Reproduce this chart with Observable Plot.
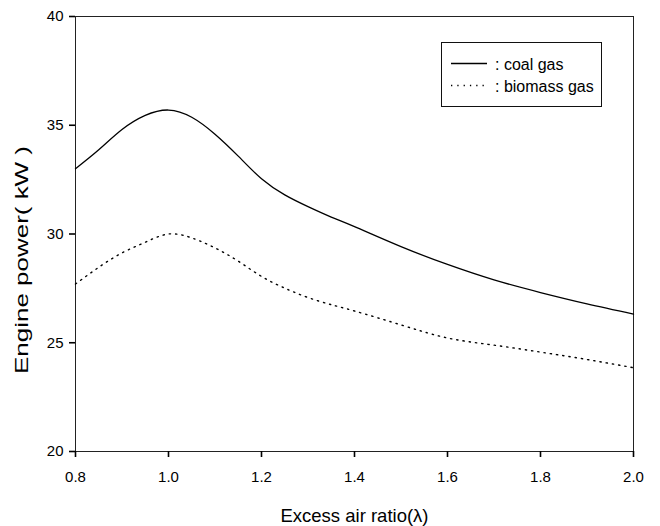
<!DOCTYPE html>
<html><head><meta charset="utf-8">
<script src="https://cdn.jsdelivr.net/npm/d3@7"></script>
<script src="https://cdn.jsdelivr.net/npm/@observablehq/plot@0.6"></script>
<style>
body{margin:0;background:#fff;}
#wrap{position:relative;width:660px;height:526px;font-family:"Liberation Sans",Arial,sans-serif;}
#legend{position:absolute;left:441px;top:42px;}
</style></head><body><div id="wrap"></div>
<script>
const lambda     = [0.8, 0.85, 0.9, 0.95, 1.0, 1.05, 1.1, 1.15, 1.2, 1.25, 1.3, 1.35, 1.4, 1.5, 1.6, 1.7, 1.8, 1.9, 2.0];
const coalGas    = [33.0, 33.87, 34.8, 35.45, 35.7, 35.37, 34.59, 33.58, 32.54, 31.8, 31.26, 30.78, 30.34, 29.42, 28.6, 27.89, 27.31, 26.79, 26.32];
const biomassGas = [27.7, 28.47, 29.13, 29.62, 30.0, 29.82, 29.36, 28.75, 28.05, 27.51, 27.08, 26.75, 26.46, 25.82, 25.22, 24.89, 24.57, 24.23, 23.85];
const xTicks = [0.8, 1.0, 1.2, 1.4, 1.6, 1.8, 2.0];
const yTicks = [20, 25, 30, 35, 40];
const xDomain = [0.8, 2.0];
const yDomain = [20, 40];
const seriesNames = [": coal gas", ": biomass gas"];
const xLabel = "Excess air ratio(λ)";
const yLabel = "Engine power( kW )";
const dotDash = "1.3,5";

const W = 660, H = 526, mL = 75, mR = 27, mT = 16, mB = 75;

const chart = Plot.plot({
  width: W, height: H,
  marginLeft: mL, marginRight: mR, marginTop: mT, marginBottom: mB,
  style: {fontFamily: "'Liberation Sans', Arial, sans-serif", fontSize: "15px", background: "white", color: "black"},
  x: {domain: xDomain},
  y: {domain: yDomain},
  marks: [
    Plot.frame({stroke: "#222"}),
    Plot.axisX({ticks: xTicks, tickFormat: d3.format(".1f"), tickSize: 6, tickPadding: 14, strokeWidth: 1.6,
      fontSize: 15, label: xLabel, labelAnchor: "center", labelOffset: 70, labelArrow: "none"}),
    Plot.axisY({ticks: yTicks, tickSize: 6, tickPadding: 6, strokeWidth: 1.6, fontSize: 15, label: null}),
    Plot.line(coalGas, {x: lambda, y: d => d, curve: "natural", stroke: "black", strokeWidth: 1.3}),
    Plot.line(biomassGas, {x: lambda, y: d => d, curve: "natural", stroke: "black", strokeWidth: 1.4, strokeDasharray: dotDash})
  ]
});
const wrap = document.getElementById("wrap");
wrap.appendChild(chart);

const svg = d3.select(chart);
svg.selectAll('[aria-label="x-axis label"] text').style("font-size", "18.5px");
// y-axis title
svg.append("text")
  .attr("transform", "translate(15,260) rotate(-90)")
  .attr("dy", "0.71em")
  .attr("text-anchor", "middle")
  .attr("fill", "black")
  .style("font-family", "'Liberation Sans', Arial, sans-serif")
  .style("font-size", "18px")
  .attr("textLength", 228).attr("lengthAdjust", "spacingAndGlyphs")
  .text(yLabel);

// legend
const leg = d3.select(wrap).append("svg").attr("id", "legend").attr("width", 162).attr("height", 66);
leg.append("rect").attr("x", 0.5).attr("y", 0.5).attr("width", 160).attr("height", 64)
  .attr("fill", "white").attr("stroke", "#111");
seriesNames.forEach((name, i) => {
  const cy = i === 0 ? 21.5 : 43.5;
  leg.append("line").attr("x1", 10).attr("x2", 46).attr("y1", cy).attr("y2", cy)
    .attr("stroke", "black").attr("stroke-width", i === 0 ? 1.3 : 1.4)
    .attr("stroke-dasharray", i === 0 ? null : dotDash);
  leg.append("text").attr("x", 54).attr("y", cy + 6.5).text(name)
    .style("font-family", "'Liberation Sans', Arial, sans-serif").style("font-size", "16px");
});
</script></body></html>
